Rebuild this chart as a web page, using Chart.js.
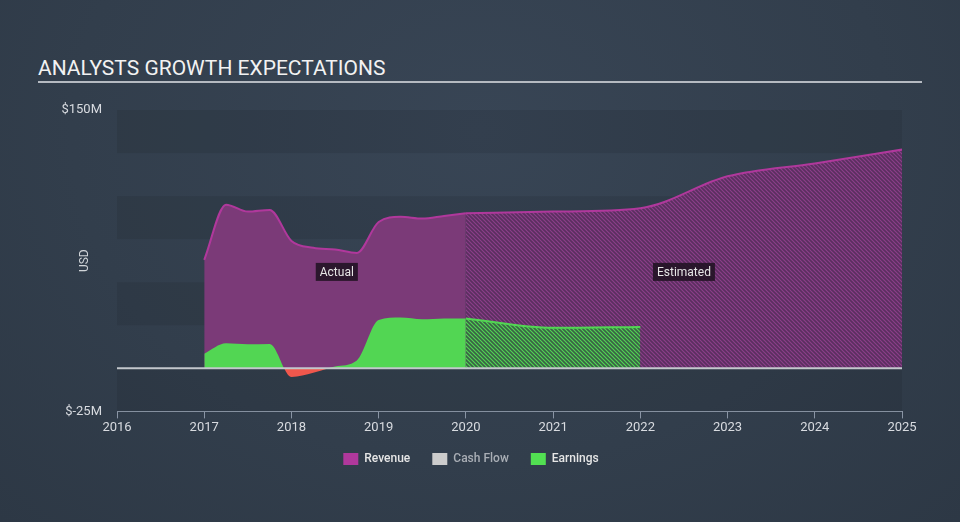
<!DOCTYPE html>
<html>
<head>
<meta charset="utf-8">
<script src="https://cdn.jsdelivr.net/npm/chart.js@4.4.1/dist/chart.umd.min.js"></script>
<style>
  html, body {
    margin: 0;
    padding: 0;
    width: 960px;
    height: 522px;
    overflow: hidden;
    background: radial-gradient(ellipse at 50% 25%, #384555 0%, #323e4c 60%, #2d3845 100%);
    font-family: Roboto, "Open Sans", sans-serif;
  }
  #title {
    position: absolute;
    left: 38px;
    top: 56px;
    width: 884px;
    color: #f2f2f2;
    font-size: 21px;
    line-height: 24px;
    padding-bottom: 1px;
    border-bottom: 2px solid #b5bac1;
  }
  #wrap {
    position: absolute;
    left: 0;
    top: 0;
    width: 960px;
    height: 522px;
  }
</style>
</head>
<body>
<div id="title">ANALYSTS GROWTH EXPECTATIONS</div>
<div id="wrap"><canvas id="growthChart"></canvas></div>
<script>
// actual history (quarterly)
const actualYears = [2017, 2017.25, 2017.5, 2017.75, 2018, 2018.25, 2018.5, 2018.75, 2019, 2019.25, 2019.5, 2019.75, 2020];
const revenueActual = [63, 95, 91, 92, 74, 70, 69, 67, 85, 88, 87, 88.5, 90];
const earningsActual = [8.5, 14.5, 14, 14.2, -5, -2.5, 1, 4.5, 28, 29.5, 28.5, 29, 29];

// analyst estimates
const revenueEstYears = [2020, 2021, 2022, 2023, 2024, 2025];
const revenueEstimate = [90, 91, 93, 111.5, 119, 127];
const earningsEstYears = [2020, 2021, 2022];
const earningsEstimate = [29, 23.5, 24];

const yearTicks = [2016, 2017, 2018, 2019, 2020, 2021, 2022, 2023, 2024, 2025];
const legendNames = ["Revenue", "Cash Flow", "Earnings"];

const toPoints = (xs, ys) => xs.map((x, i) => ({ x: x, y: ys[i] }));

function makeHatch(bg, fg) {
  const c = document.createElement("canvas");
  c.width = 4;
  c.height = 4;
  const g = c.getContext("2d");
  g.fillStyle = bg;
  g.fillRect(0, 0, 4, 4);
  g.strokeStyle = fg;
  g.lineWidth = 1.2;
  g.beginPath();
  g.moveTo(-1, -1); g.lineTo(5, 5);
  g.moveTo(-1, 3); g.lineTo(1, 5);
  g.moveTo(3, -1); g.lineTo(5, 1);
  g.stroke();
  return g.createPattern(c, "repeat");
}

const purpleHatch = makeHatch("#5a2f5f", "#8c3f8a");
const greenHatch = makeHatch("#3a6146", "#52d653");

// dark bands + zero line + Actual/Estimated tags
const decorations = {
  id: "decorations",
  beforeDatasetsDraw(chart) {
    const { ctx, chartArea, scales } = chart;
    const y = scales.y;
    ctx.save();
    ctx.fillStyle = "rgba(0,0,0,0.08)";
    [[125, 150], [75, 100], [25, 50], [-25, 0]].forEach(([a, b]) => {
      const top = y.getPixelForValue(b);
      const bot = y.getPixelForValue(a);
      ctx.fillRect(chartArea.left, top, chartArea.right - chartArea.left, bot - top);
    });
    ctx.restore();
  },
  afterDatasetsDraw(chart) {
    const { ctx, chartArea, scales } = chart;
    const zy = scales.y.getPixelForValue(0);
    ctx.save();
    ctx.strokeStyle = "#c3c7cc";
    ctx.lineWidth = 2;
    ctx.beginPath();
    ctx.moveTo(chartArea.left, zy);
    ctx.lineTo(chartArea.right, zy);
    ctx.stroke();

    ctx.font = "12px Roboto";
    ctx.textAlign = "center";
    ctx.textBaseline = "middle";
    [["Actual", 2018.52], ["Estimated", 2022.5]].forEach(([txt, xv]) => {
      const px = scales.x.getPixelForValue(xv);
      const py = scales.y.getPixelForValue(56);
      const w = ctx.measureText(txt).width + 8;
      ctx.fillStyle = "rgba(32,18,34,0.88)";
      ctx.fillRect(px - w / 2, py - 9, w, 18);
      ctx.fillStyle = "#e6e6e6";
      ctx.fillText(txt, px, py + 1);
    });
    ctx.restore();
  },
};

const ctx = document.getElementById("growthChart").getContext("2d");
const growthChart = new Chart(ctx, {
  type: "line",
  data: {
    datasets: [
      {
        label: "Revenue",
        data: toPoints(actualYears, revenueActual),
        borderColor: "#b0389c",
        backgroundColor: "#7b3a78",
        borderWidth: 2,
        fill: "origin",
        order: 2,
      },
      {
        label: "Revenue estimate",
        data: toPoints(revenueEstYears, revenueEstimate),
        borderColor: "#b0389c",
        backgroundColor: purpleHatch,
        borderWidth: 2,
        fill: "origin",
        order: 2,
      },
      {
        label: "Earnings",
        data: toPoints(actualYears, earningsActual),
        borderColor: "#52d653",
        borderWidth: 0,
        fill: { target: "origin", above: "#52d653", below: "#f0574c" },
        order: 1,
      },
      {
        label: "Earnings estimate",
        data: toPoints(earningsEstYears, earningsEstimate),
        borderColor: "#52d653",
        backgroundColor: greenHatch,
        borderWidth: 2,
        fill: "origin",
        order: 1,
      },
    ],
  },
  options: {
    responsive: true,
    maintainAspectRatio: false,
    animation: false,
    events: [],
    elements: {
      point: { radius: 0 },
      line: { cubicInterpolationMode: "monotone" },
    },
    layout: {
      padding: { left: 40, right: 58, top: 110, bottom: 47 },
    },
    plugins: {
      tooltip: { enabled: false },
      legend: {
        position: "bottom",
        labels: {
          boxWidth: 15,
          boxHeight: 12,
          padding: 22,
          font: { family: "Roboto", size: 12, weight: "500" },
          generateLabels: () =>
            legendNames.map((name, i) => ({
              text: name,
              fillStyle: ["#b0389c", "#cccccc", "#52e052"][i],
              strokeStyle: "transparent",
              lineWidth: 0,
              fontColor: i === 1 ? "#a9aeb5" : "#e6e6e6",
              hidden: false,
              datasetIndex: i,
            })),
        },
      },
    },
    scales: {
      x: {
        type: "linear",
        min: 2016,
        max: 2025,
        afterBuildTicks: (axis) => {
          axis.ticks = yearTicks.map((v) => ({ value: v }));
        },
        afterFit: (axis) => {
          axis.height = axis.height - 7;
        },
        ticks: {
          color: "#d8dbe0",
          font: { family: "Roboto", size: 13 },
          padding: 2,
          maxRotation: 0,
          callback: (v) => String(v),
        },
        grid: {
          drawOnChartArea: false,
          drawTicks: true,
          tickLength: 7,
          color: "#8a95a5",
        },
        border: { display: true, color: "#8a95a5", width: 1 },
      },
      y: {
        min: -25,
        max: 150,
        afterFit: (axis) => {
          axis.width = 77;
        },
        ticks: {
          stepSize: 25,
          padding: 15,
          color: "#d8dbe0",
          font: { family: "Roboto", size: 13 },
          callback: (v) => (v === 150 ? "$150M" : v === -25 ? "$-25M" : ""),
        },
        grid: { display: false, drawTicks: false },
        border: { display: false },
        title: {
          display: true,
          text: "USD",
          color: "#d0d4d8",
          font: { family: "Roboto", size: 12 },
          padding: { top: 38, bottom: 0 },
        },
      },
    },
  },
  plugins: [decorations],
});
</script>
</body>
</html>
